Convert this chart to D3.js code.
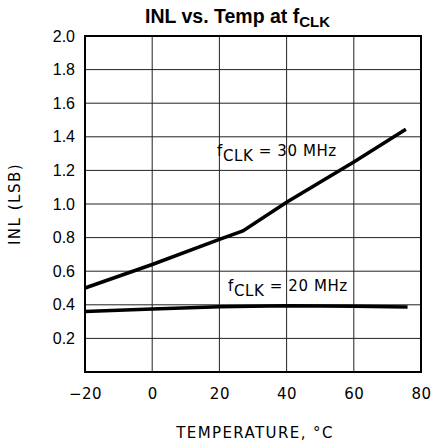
<!DOCTYPE html>
<html>
<head>
<meta charset="utf-8">
<script src="https://cdn.jsdelivr.net/npm/d3@7"></script>
<style>
  body { margin: 0; background: #fff; }
  svg { display: block; }
</style>
</head>
<body>
<div id="chart"></div>
<script>
// temperature (°C) / INL (LSB)
const temps30 = [-20, 0, 20, 27, 40, 60, 75.5];
const inl30 = [0.50, 0.64, 0.79, 0.84, 1.01, 1.25, 1.445];
const temps20 = [-20, 0, 20, 40, 60, 76];
const inl20 = [0.36, 0.375, 0.389, 0.395, 0.392, 0.387];

const xTicks = [-20, 0, 20, 40, 60, 80];
const yTicks = [0.2, 0.4, 0.6, 0.8, 1.0, 1.2, 1.4, 1.6, 1.8, 2.0];

const width = 433;
const height = 444;
const margin = { top: 36, right: 12, bottom: 72, left: 85 };

const svg = d3.select('#chart')
    .append('svg')
    .attr('width', width)
    .attr('height', height);

const x = d3.scaleLinear()
    .domain([-20, 80])
    .range([margin.left, width - margin.right]);

const y = d3.scaleLinear()
    .domain([0, 2])
    .range([height - margin.bottom, margin.top]);

// grid
svg.append('g')
    .selectAll('line')
    .data(xTicks.slice(1, -1))
    .enter()
    .append('line')
    .attr('x1', d => x(d))
    .attr('x2', d => x(d))
    .attr('y1', y(0))
    .attr('y2', y(2))
    .attr('stroke', '#222')
    .attr('stroke-width', 1);

svg.append('g')
    .selectAll('line')
    .data(yTicks.slice(0, -1))
    .enter()
    .append('line')
    .attr('x1', x(-20))
    .attr('x2', x(80))
    .attr('y1', d => y(d))
    .attr('y2', d => y(d))
    .attr('stroke', '#222')
    .attr('stroke-width', 1);

// frame
svg.append('rect')
    .attr('x', x(-20))
    .attr('y', y(2))
    .attr('width', x(80) - x(-20))
    .attr('height', y(0) - y(2))
    .attr('fill', 'none')
    .attr('stroke', '#000')
    .attr('stroke-width', 2);

// axes (labels only, grid does the rest)
const xAxis = svg.append('g')
    .attr('transform', `translate(0, ${y(0)})`)
    .call(d3.axisBottom(x).tickValues(xTicks).tickSize(0).tickPadding(16)
        .tickFormat(d => d < 0 ? '\u2212' + Math.abs(d) : d));
xAxis.select('.domain').remove();
xAxis.selectAll('text')
    .attr('font-family', 'DejaVu Sans')
    .attr('font-size', 15)
    .attr('letter-spacing', 0.5)
    .attr('fill', '#000');

const yAxis = svg.append('g')
    .attr('transform', `translate(${x(-20)}, 0)`)
    .call(d3.axisLeft(y).tickValues(yTicks).tickSize(0).tickPadding(10)
        .tickFormat(d3.format('.1f')));
yAxis.select('.domain').remove();
yAxis.selectAll('text')
    .attr('font-family', 'Liberation Sans')
    .attr('font-size', 16)
    .attr('fill', '#000');

// series
const line = d3.line()
    .x(d => x(d[0]))
    .y(d => y(d[1]));

svg.append('path')
    .datum(d3.zip(temps30, inl30))
    .attr('d', line)
    .attr('fill', 'none')
    .attr('stroke', '#000')
    .attr('stroke-width', 3.5);

svg.append('path')
    .datum(d3.zip(temps20, inl20))
    .attr('d', line)
    .attr('fill', 'none')
    .attr('stroke', '#000')
    .attr('stroke-width', 3.5);

// curve labels
function fclkLabel(xPos, yPos, rest) {
    const t = svg.append('text')
        .attr('x', xPos)
        .attr('y', yPos)
        .attr('font-family', 'DejaVu Sans')
        .attr('font-size', 15)
        .attr('letter-spacing', 0.6)
        .attr('fill', '#000');
    t.append('tspan').text('f');
    t.append('tspan').attr('dy', 5).text('CLK');
    t.append('tspan').attr('dy', -5).text(' = ' + rest);
}
fclkLabel(217, 156, '30 MHz');
fclkLabel(228, 291, '20 MHz');

// title
const title = svg.append('text')
    .attr('x', 145)
    .attr('y', 23)
    .attr('font-family', 'Liberation Sans')
    .attr('font-weight', 'bold')
    .attr('font-size', 19.5)
    .attr('fill', '#000');
title.append('tspan').text('INL vs. Temp at f');
title.append('tspan').attr('dy', 4).attr('font-size', 15).text('CLK');

// axis titles
svg.append('text')
    .attr('x', 255)
    .attr('y', 438)
    .attr('text-anchor', 'middle')
    .attr('font-family', 'DejaVu Sans')
    .attr('font-size', 15)
    .attr('letter-spacing', 1.4)
    .attr('fill', '#000')
    .text('TEMPERATURE, \u00B0C');

svg.append('text')
    .attr('transform', 'translate(20, 204) rotate(-90)')
    .attr('text-anchor', 'middle')
    .attr('font-family', 'DejaVu Sans')
    .attr('font-size', 15)
    .attr('letter-spacing', 1.5)
    .attr('fill', '#000')
    .text('INL (LSB)');
</script>
</body>
</html>
